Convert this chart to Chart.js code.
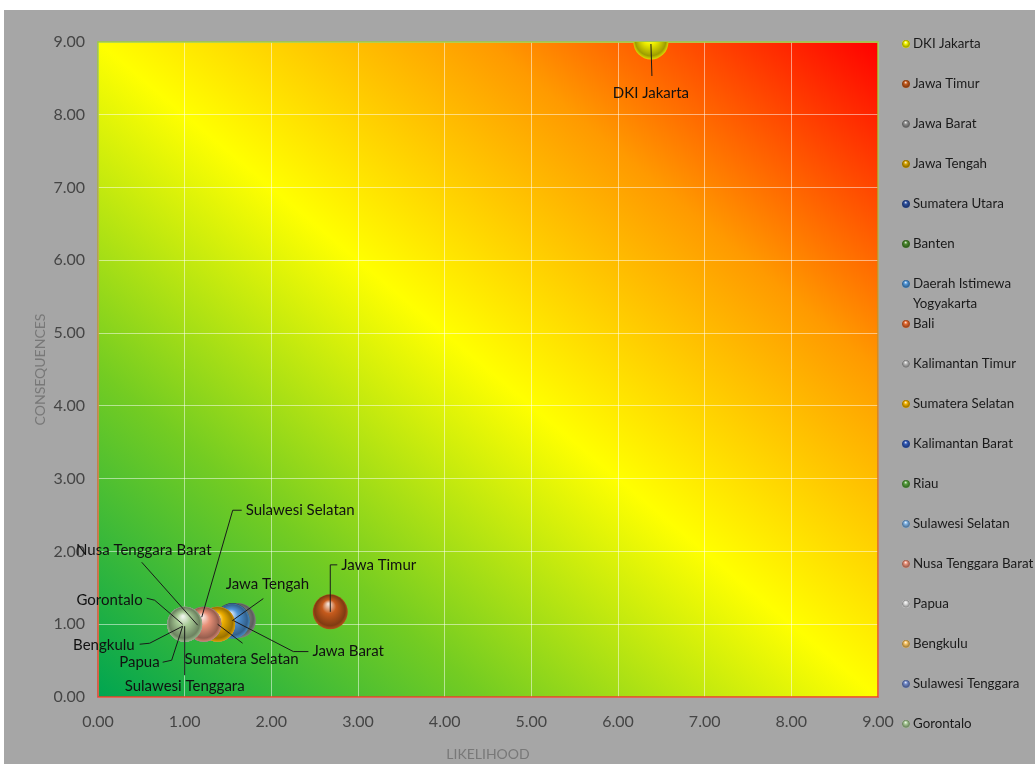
<!DOCTYPE html>
<html>
<head>
<meta charset="utf-8">
<title>Risk matrix</title>
<script src="https://cdn.jsdelivr.net/npm/chart.js@4.4.1/dist/chart.umd.min.js"></script>
<style>
  html, body { margin: 0; padding: 0; background: #fff; }
  #wrap { position: absolute; left: 4px; top: 10px; width: 1031px; height: 754px; background: #a6a6a6; }
</style>
</head>
<body>
<div id="wrap"><canvas id="riskChart"></canvas></div>
<script>
// Regions (series), in legend order
const regions = [
  'DKI Jakarta', 'Jawa Timur', 'Jawa Barat', 'Jawa Tengah', 'Sumatera Utara', 'Banten',
  'Daerah Istimewa Yogyakarta', 'Bali', 'Kalimantan Timur', 'Sumatera Selatan', 'Kalimantan Barat',
  'Riau', 'Sulawesi Selatan', 'Nusa Tenggara Barat', 'Papua', 'Bengkulu', 'Sulawesi Tenggara', 'Gorontalo'
];

// x values
const likelihood = [
  6.38, 2.68, 1.62, 1.55, 1.55, 1.55,
  1.55, 1.38, 1.38, 1.38, 1.22,
  1.22, 1.22, 1.22, 1.00, 1.00, 1.00, 1.00
];

// y values
const consequences = [
  9.00, 1.17, 1.05, 1.05, 1.05, 1.04,
  1.04, 1.00, 1.00, 1.00, 1.00,
  1.00, 1.00, 1.00, 1.00, 1.00, 1.00, 1.00
];

const tickLabels = ['0.00', '1.00', '2.00', '3.00', '4.00', '5.00', '6.00', '7.00', '8.00', '9.00'];

const colors = [
  '#f2f200', '#c55a1c', '#8f8f8f', '#d6a200', '#2c50a0', '#4a8a2c',
  '#4f95d8', '#e4682e', '#b4b4b4', '#f0b000', '#3059b8',
  '#55a03c', '#7cb0e2', '#e89078', '#d8d8d8', '#f4c060', '#7088c8', '#a6c894'
];

const FONT = "Lato, 'Open Sans', sans-serif";
const BUBBLE_R = 17.5;

// leader lines and text anchors, in pixels from the bubble centre
const labelPos = {
  'DKI Jakarta':         { line: [[0, 2], [1, 34]], text: [0, 51], align: 'center' },
  'Jawa Timur':          { line: [[0, 0], [0, -47], [7, -47]], text: [11, -47], align: 'left' },
  'Jawa Barat':          { line: [[-5, 0], [55, 31], [70, 31]], text: [74, 31], align: 'left' },
  'Jawa Tengah':         { line: [[0, 0], [31, -22]], text: [35, -36], align: 'center' },
  'Sumatera Selatan':    { line: [[0, 0], [25, 19]], text: [24, 35], align: 'center' },
  'Sulawesi Selatan':    { line: [[-2, -7], [29, -114], [38, -114]], text: [42, -114], align: 'left' },
  'Nusa Tenggara Barat': { line: [[-6, 1], [-62, -62]], text: [-60, -74], align: 'center' },
  'Gorontalo':           { line: [[-2, 0], [-30, -24], [-38, -26]], text: [-42, -24], align: 'right' },
  'Bengkulu':            { line: [[-2, 2], [-35, 19], [-45, 20]], text: [-50, 21], align: 'right' },
  'Papua':               { line: [[-2, 2], [-13, 36], [-22, 38]], text: [-25, 38], align: 'right' },
  'Sulawesi Tenggara':   { line: [[0, 2], [0, 51]], text: [0, 62], align: 'center' }
};

function shade(hex, amt) {
  const n = parseInt(hex.slice(1), 16);
  let r = n >> 16, g = (n >> 8) & 255, b = n & 255;
  if (amt < 0) {
    r *= 1 + amt; g *= 1 + amt; b *= 1 + amt;
  } else {
    r += (255 - r) * amt; g += (255 - g) * amt; b += (255 - b) * amt;
  }
  return `rgb(${Math.round(r)},${Math.round(g)},${Math.round(b)})`;
}

function sphere(ctx, x, y, r, color) {
  if (!Number.isFinite(x) || !Number.isFinite(y)) return color;
  const g = ctx.createRadialGradient(x - r * 0.1, y - r * 0.45, r * 0.05, x, y, r * 1.05);
  g.addColorStop(0, shade(color, 0.8));
  g.addColorStop(0.35, color);
  g.addColorStop(0.82, shade(color, -0.35));
  g.addColorStop(1, shade(color, -0.02));
  return g;
}

// green / yellow / red background of the plot area
const matrixBackground = {
  id: 'matrixBackground',
  beforeDraw(chart) {
    const { ctx, chartArea: a } = chart;
    const w = a.right - a.left, h = a.bottom - a.top;
    const s = 2 * w * h / (w * w + h * h);
    const g = ctx.createLinearGradient(a.left, a.bottom, a.left + s * h, a.bottom - s * w);
    g.addColorStop(0, '#00a551');
    g.addColorStop(0.25, '#74cc22');
    g.addColorStop(0.5, '#ffff00');
    g.addColorStop(0.75, '#ff9a00');
    g.addColorStop(1, '#ff0000');
    ctx.save();
    ctx.fillStyle = g;
    ctx.fillRect(a.left, a.top, w, h);
    ctx.restore();
  },
  beforeDatasetsDraw(chart) {
    const { ctx, chartArea: a } = chart;
    const g = ctx.createLinearGradient(0, a.top, 0, a.bottom);
    g.addColorStop(0, '#9ccc3c');
    g.addColorStop(1, '#e8402c');
    ctx.save();
    ctx.strokeStyle = g;
    ctx.lineWidth = 1.5;
    ctx.strokeRect(a.left, a.top, a.right - a.left, a.bottom - a.top);
    ctx.restore();
  }
};

const leaderLabels = {
  id: 'leaderLabels',
  afterDatasetsDraw(chart) {
    const ctx = chart.ctx;
    ctx.save();
    ctx.font = `15px ${FONT}`;
    ctx.textBaseline = 'middle';
    regions.forEach((name, i) => {
      const pos = labelPos[name];
      if (!pos) return;
      const el = chart.getDatasetMeta(i).data[0];
      ctx.beginPath();
      pos.line.forEach(([dx, dy], k) => {
        if (k === 0) ctx.moveTo(el.x + dx, el.y + dy);
        else ctx.lineTo(el.x + dx, el.y + dy);
      });
      ctx.strokeStyle = '#1a1a1a';
      ctx.lineWidth = 1;
      ctx.stroke();
      ctx.fillStyle = '#111';
      ctx.textAlign = pos.align;
      ctx.fillText(name, el.x + pos.text[0], el.y + pos.text[1]);
    });
    ctx.restore();
  }
};

const sideLegend = {
  id: 'sideLegend',
  afterDraw(chart) {
    const { ctx, chartArea: a } = chart;
    const mx = a.right + 28, tx = a.right + 35, maxW = chart.width - tx;
    ctx.save();
    ctx.font = `13.3px ${FONT}`;
    ctx.textBaseline = 'middle';
    ctx.textAlign = 'left';
    regions.forEach((name, i) => {
      const y = a.top + 2 + i * 40;
      ctx.beginPath();
      ctx.arc(mx, y, 4, 0, Math.PI * 2);
      ctx.fillStyle = sphere(ctx, mx, y, 4, colors[i]);
      ctx.fill();
      // wrap long names
      const lines = [];
      let cur = '';
      name.split(' ').forEach(word => {
        const test = cur ? cur + ' ' + word : word;
        if (cur && ctx.measureText(test).width > maxW) { lines.push(cur); cur = word; }
        else cur = test;
      });
      lines.push(cur);
      ctx.fillStyle = '#1a1a1a';
      lines.forEach((ln, k) => ctx.fillText(ln, tx, y + k * 20));
    });
    ctx.restore();
  }
};

const datasets = regions.map((name, i) => ({
  label: name,
  data: [{ x: likelihood[i], y: consequences[i] }],
  order: regions.length - i,
  clip: 0,
  borderWidth: 0,
  backgroundColor: (c) => {
    if (c.type !== 'data' || !c.parsed) return colors[i];
    const { x, y } = c.chart.scales;
    if (!x || !y) return colors[i];
    return sphere(c.chart.ctx, x.getPixelForValue(c.parsed.x), y.getPixelForValue(c.parsed.y), BUBBLE_R, colors[i]);
  }
}));

const tickFont = { family: FONT, size: 16 };
const gridStyle = { color: 'rgba(255,255,255,0.5)', lineWidth: 1, drawTicks: false };

new Chart(document.getElementById('riskChart'), {
  type: 'bubble',
  data: { datasets },
  options: {
    responsive: true,
    maintainAspectRatio: false,
    animation: false,
    events: [],
    layout: { padding: { top: 32, right: 157, left: 0, bottom: 0 } },
    elements: { point: { radius: BUBBLE_R } },
    plugins: { legend: { display: false }, tooltip: { enabled: false } },
    scales: {
      x: {
        type: 'linear', min: 0, max: 9,
        ticks: { stepSize: 1, padding: 15, color: '#454545', font: tickFont, callback: v => tickLabels[v] },
        grid: gridStyle,
        border: { display: false },
        title: { display: true, text: 'LIKELIHOOD', color: '#787878', font: { family: FONT, size: 14 }, padding: { top: 0, bottom: 1 } },
        afterFit: s => { s.height = 67; }
      },
      y: {
        type: 'linear', min: 0, max: 9,
        ticks: { stepSize: 1, padding: 13, color: '#454545', font: tickFont, callback: v => tickLabels[v] },
        grid: gridStyle,
        border: { display: false },
        title: { display: true, text: 'CONSEQUENCES', color: '#787878', font: { family: FONT, size: 14 }, padding: { top: 28, bottom: 0 } },
        afterFit: s => { s.width = 94; }
      }
    }
  },
  plugins: [matrixBackground, leaderLabels, sideLegend]
});
</script>
</body>
</html>
